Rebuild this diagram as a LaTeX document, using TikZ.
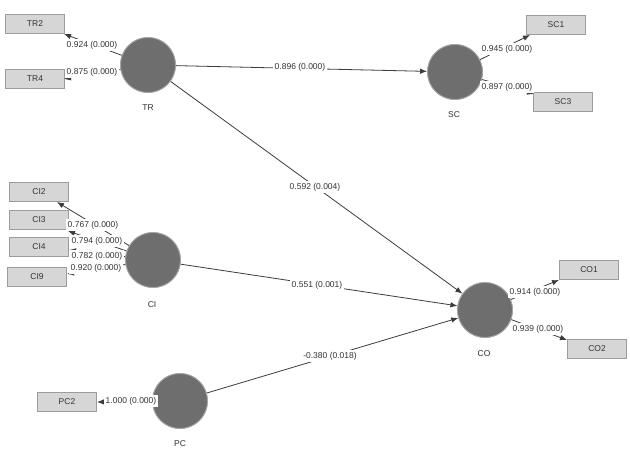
\documentclass[tikz,border=0pt]{standalone}
\usepackage{fontspec}
\setmainfont{Liberation Sans}
\usetikzlibrary{arrows.meta}
\definecolor{lvfill}{HTML}{6E6E6E}
\definecolor{lvedge}{HTML}{A8A8A8}
\definecolor{mvfill}{HTML}{D6D6D6}
\definecolor{mvedge}{HTML}{9C9C9C}
\definecolor{linec}{HTML}{3C3C3C}
\definecolor{txtc}{HTML}{333333}
\tikzset{
  latent/.style={circle, fill=lvfill, draw=lvedge, line width=0.8pt, minimum size=55pt, inner sep=0pt},
  indic/.style={rectangle, fill=mvfill, draw=mvedge, line width=0.6pt, minimum width=59pt, minimum height=19pt, inner sep=0pt, font=\fontsize{8.5}{10}\selectfont, text=txtc},
  lvname/.style={font=\fontsize{8.5}{10}\selectfont, text=txtc, inner sep=1pt},
  coef/.style={fill=white, font=\fontsize{8.5}{10}\selectfont, text=txtc, inner xsep=1.5pt, inner ysep=2.5pt},
  conn/.style={draw=linec, line width=0.8pt, -{Latex[length=7pt,width=5.5pt]}},
}
\begin{document}
\begin{tikzpicture}[x=1pt,y=-1pt]
\useasboundingbox[fill=white] (0,0) rectangle (630,455);
% latent variables
\node[latent] (TR) at (148,65) {};
\node[latent] (SC) at (455,72) {};
\node[latent] (CI) at (153,260) {};
\node[latent] (CO) at (485,310) {};
\node[latent] (PC) at (180,401) {};
\node[lvname] (TRl) at (148,108) {TR};
\node[lvname] (SCl) at (454,115) {SC};
\node[lvname] (CIl) at (152,305) {CI};
\node[lvname] (COl) at (484,354) {CO};
\node[lvname] (PCl) at (180,444) {PC};
% indicators
\node[indic] (TR2) at (35,24) {TR2};
\node[indic] (TR4) at (35,79) {TR4};
\node[indic] (SC1) at (556,25) {SC1};
\node[indic] (SC3) at (563,102) {SC3};
\node[indic] (CI2) at (39,192) {CI2};
\node[indic] (CI3) at (39,220) {CI3};
\node[indic] (CI4) at (39,247) {CI4};
\node[indic] (CI9) at (37,277) {CI9};
\node[indic] (CO1) at (589,270) {CO1};
\node[indic] (CO2) at (597,349) {CO2};
\node[indic] (PC2) at (67,402) {PC2};
% arrow tips on indicators
\coordinate (tTR2) at (64,34);
\coordinate (tTR4) at (64,79);
\coordinate (tSC1) at (530,35);
\coordinate (tSC3) at (534,94);
\coordinate (tCI2) at (57,202);
\coordinate (tCI3) at (68,231);
\coordinate (tCI4) at (69,250);
\coordinate (tCI9) at (67,274);
\coordinate (tCO1) at (559,280);
\coordinate (tCO2) at (567,340);
\coordinate (tPC2) at (97,402);
% outer model
\draw[conn] (TR) -- (tTR2);
\draw[conn] (TR) -- (tTR4);
\draw[conn] (SC) -- (tSC1);
\draw[conn] (SC) -- (tSC3);
\draw[conn] (CI) -- (tCI2);
\draw[conn] (CI) -- (tCI3);
\draw[conn] (CI) -- (tCI4);
\draw[conn] (CI) -- (tCI9);
\draw[conn] (CO) -- (tCO1);
\draw[conn] (CO) -- (tCO2);
\draw[conn] (PC) -- (tPC2);
% inner model
\draw[conn] (TR) -- (SC);
\draw[conn] (TR) -- (CO);
\draw[conn] (CI) -- (CO);
\draw[conn] (PC) -- (CO);
% redraw latent variables on top of line starts
\node[latent] at (148,65) {};
\node[latent] at (455,72) {};
\node[latent] at (153,260) {};
\node[latent] at (485,310) {};
\node[latent] at (180,401) {};
% coefficient labels
\node[coef] (lTR2) at (92,45) {0.924 (0.000)};
\node[coef] (lTR4) at (92,72) {0.875 (0.000)};
\node[coef] (lSC1) at (507,49) {0.945 (0.000)};
\node[coef] (lSC3) at (507,87) {0.897 (0.000)};
\node[coef] (lCI2) at (93,225) {0.767 (0.000)};
\node[coef] (lCI3) at (97,241) {0.794 (0.000)};
\node[coef] (lCI4) at (97,256) {0.782 (0.000)};
\node[coef] (lCI9) at (96,268) {0.920 (0.000)};
\node[coef] (lCO1) at (535,292) {0.914 (0.000)};
\node[coef] (lCO2) at (538,329) {0.939 (0.000)};
\node[coef] (lPC2) at (131,401) {1.000 (0.000)};
\node[coef] (lTRSC) at (300,67) {0.896 (0.000)};
\node[coef] (lTRCO) at (315,187) {0.592 (0.004)};
\node[coef] (lCICO) at (317,285) {0.551 (0.001)};
\node[coef] (lPCCO) at (330,356) {-0.380 (0.018)};
\end{tikzpicture}
\end{document}
